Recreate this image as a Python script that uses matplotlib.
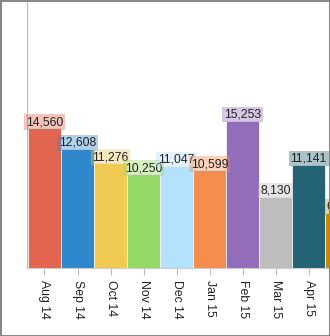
import matplotlib
matplotlib.use("Agg")
import matplotlib.pyplot as plt
from matplotlib.patches import Rectangle

# ----------------------------
# data
# ----------------------------
months = ["Aug 14", "Sep 14", "Oct 14", "Nov 14", "Dec 14",
          "Jan 15", "Feb 15", "Mar 15", "Apr 15", "May 15"]
values = [14560, 12608, 11276, 10250, 11047, 10599, 15253, 8130, 11141, 6626]
colors = ["#E2654F", "#2F88CC", "#F0CA52", "#95DA66", "#B4E1FB",
          "#F58D4E", "#916DBA", "#BDBDBD", "#236373", "#C98A0C"]

plt.rcParams["font.family"] = ["Liberation Sans", "DejaVu Sans"]

W, H = 330, 336
fig = plt.figure(figsize=(W / 100, H / 100), dpi=100)
ax = fig.add_axes([27 / W, 1 - 268 / H, 303 / W, 268 / H])

x = list(range(len(values)))
ax.bar(x, values, width=1.0, color=colors, edgecolor="#f4f4f4",
       linewidth=0.6, zorder=2)

# value labels with pale box in bar colour
for xi, v, c in zip(x, values, colors):
    ax.text(xi, v, f"{v:,}", ha="center", va="bottom", fontsize=8.8,
            color="#222222", zorder=3,
            bbox=dict(boxstyle="square,pad=0.15", facecolor=c,
                      edgecolor="none", alpha=0.38))

# only the first nine months fit inside the frame
n_vis = 9
ax.set_xlim(-0.53, 8.65)
ax.set_ylim(1443, 26560)
ax.set_xticks(x[:n_vis])
ax.set_xticklabels(months[:n_vis], rotation=-90, fontsize=8.8,
                   color="#222222")
ax.tick_params(axis="x", length=5, width=0.8, color="#bbbbbb", pad=4)
ax.set_yticks([])

for s in ["top", "right"]:
    ax.spines[s].set_visible(False)
ax.spines["left"].set_color("#bbbbbb")
ax.spines["bottom"].set_color("#cccccc")

# outer frame
fig.patches.append(Rectangle((0, 0), 1, 1, transform=fig.transFigure,
                             fill=False, edgecolor="#888888",
                             linewidth=2.2, zorder=10))

fig.savefig("out.png", dpi=100)
